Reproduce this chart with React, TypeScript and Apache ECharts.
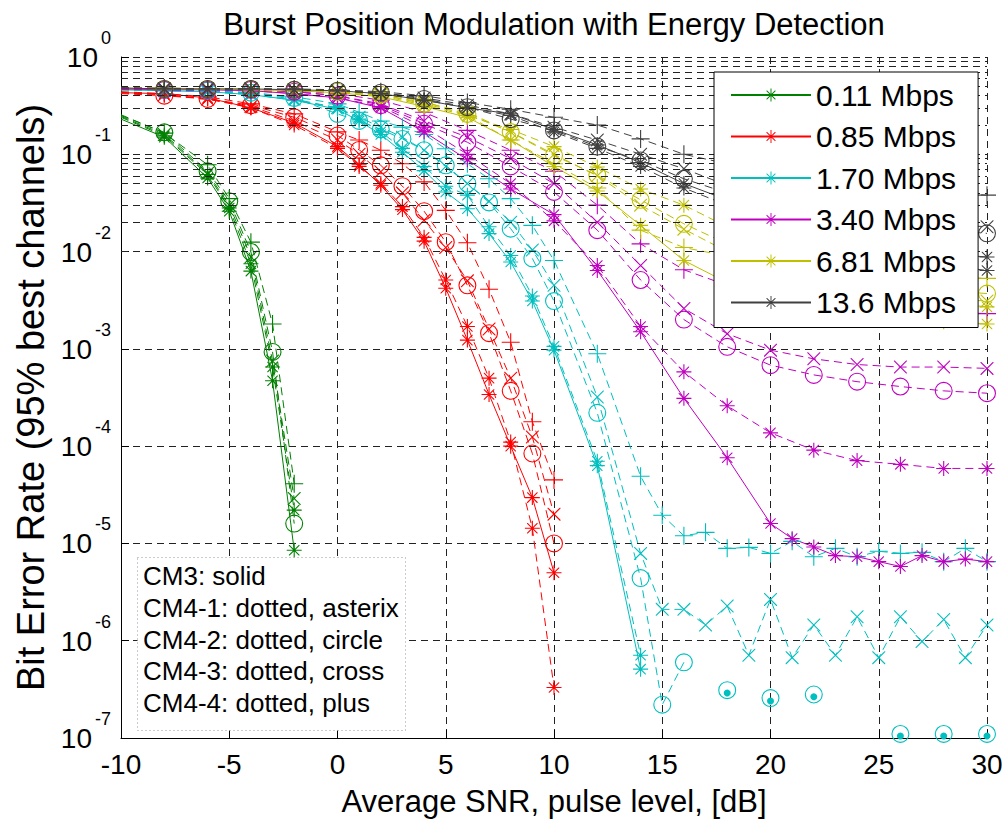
import React, { useEffect, useRef } from 'react';
import * as echarts from 'echarts';

const FONT = '"Liberation Sans", Arial, Helvetica, sans-serif';

const RATES = ['0.11 Mbps', '0.85 Mbps', '1.70 Mbps', '3.40 Mbps', '6.81 Mbps', '13.6 Mbps'];
const COLORS = ['#008000', '#ff0000', '#00bfbf', '#bf00bf', '#bfbf00', '#404040'];
const CHANNELS = ['CM3', 'CM4-1', 'CM4-2', 'CM4-3', 'CM4-4'];
const NOTES = ['CM3: solid', 'CM4-1: dotted, asterix', 'CM4-2: dotted, circle', 'CM4-3: dotted, cross', 'CM4-4: dotted, plus'];
const X_TICKS = { min: -10, max: 30, interval: 5 };
const Y_RANGE = { min: 1e-7, max: 1 };
const MINOR_MULT = [2, 3, 4, 5, 6, 7, 8, 9];
const DECADES = [-7, -6, -5, -4, -3, -2, -1];

// 0.11 Mbps
const X_G = [-10, -8, -6, -5, -4, -3, -2];
const G_CM3 = [0.23, 0.15, 0.057, 0.026, 0.0063, 4.7e-4, 8.5e-6];
const G_CM41 = [0.24, 0.155, 0.062, 0.028, 0.0075, 6.5e-4, 2.2e-5];
const G_CM42 = [0.25, 0.168, 0.067, 0.033, 0.0099, 9.3e-4, 1.6e-5];
const G_CM43 = [0.245, 0.16, 0.064, 0.03, 0.0088, 7.5e-4, 2.9e-5];
const G_CM44 = [0.255, 0.165, 0.078, 0.035, 0.0125, 1.8e-3, 4.1e-5];

// 0.85 Mbps
const X_R = [-10, -8, -6, -4, -2, 0, 1, 2, 3, 4, 5, 6, 7, 8, 9, 10];
const R_CM3 = [0.43, 0.42, 0.38, 0.3, 0.21, 0.12, 0.078, 0.048, 0.027, 0.0128, 0.0042, 1.23e-3, 3.4e-4, 1.0e-4, 2.96e-5, 5e-6];
const R_CM41 = [0.43, 0.41, 0.37, 0.3, 0.2, 0.115, 0.075, 0.05, 0.029, 0.014, 0.0051, 1.7e-3, 5e-4, 1.1e-4, 1.43e-5, 3.3e-7];
const R_CM42 = [0.42, 0.4, 0.37, 0.32, 0.24, 0.156, 0.111, 0.077, 0.047, 0.026, 0.0125, 0.0045, 1.45e-3, 3.7e-4, 8.4e-5, 1e-5];
const R_CM43 = [0.43, 0.41, 0.37, 0.31, 0.22, 0.14, 0.1, 0.066, 0.04, 0.021, 0.011, 0.005, 1.6e-3, 5e-4, 1.24e-4, 2e-5];
const R_CM44 = [0.44, 0.42, 0.39, 0.33, 0.26, 0.17, 0.14, 0.11, 0.08, 0.052, 0.0265, 0.0123, 0.0041, 1.17e-3, 1.78e-4, 4.5e-5];

// 1.70 Mbps
const X_C = [-10, -8, -6, -4, -2, 0, 1, 2, 3, 4, 5, 6, 7, 8, 9, 10, 12, 14, 15, 16, 17, 18, 19, 20, 21, 22, 23, 24, 25, 26, 27, 28, 29, 30];
const C_CM3 = [0.46, 0.45, 0.44, 0.41, 0.36, 0.29, 0.22, 0.16, 0.105, 0.068, 0.041, 0.0276, 0.0153, 0.0078, 0.0031, 9.7e-4, 6.3e-5, 5.1e-7,
  null, null, null, null, null, null, null, null, null, null, null, null, null, null, null, null];
const C_CM41 = [0.46, 0.45, 0.44, 0.41, 0.36, 0.3, 0.23, 0.17, 0.115, 0.075, 0.047, 0.038, 0.018, 0.0091, 0.0035, 1.06e-3, 7e-5, 7.1e-7,
  null, null, null, null, null, null, null, null, null, null, null, null, null, null, null, null];
const C_CM42 = [0.47, 0.46, 0.45, 0.43, 0.38, 0.26, 0.22, 0.18, 0.144, 0.11, 0.077, 0.05, 0.032, 0.0172, 0.0085, 0.0031, 2.2e-4, 4.4e-6, 2.2e-7, 6e-7,
  null, 3.1e-7, null, 2.57e-7, null, 2.8e-7, null, null, null, 1.1e-7, null, 1.1e-7, null, 1.1e-7];
const C_CM43 = [0.46, 0.45, 0.44, 0.42, 0.37, 0.3, 0.24, 0.19, 0.15, 0.11, 0.075, 0.05, 0.033, 0.02, 0.0104, 0.0045, 3.2e-4, 7.9e-6, 2.1e-6, 2.1e-6,
  1.45e-6, 2.27e-6, 7.1e-7, 2.66e-6, 6.7e-7, 1.45e-6, 7.1e-7, 1.76e-6, 6.7e-7, 1.76e-6, 9.8e-7, 1.65e-6, 6.7e-7, 1.45e-6];
const C_CM44 = [0.47, 0.46, 0.45, 0.43, 0.39, 0.33, 0.27, 0.22, 0.19, 0.16, 0.114, 0.08, 0.056, 0.035, 0.0186, 0.0081, 8.9e-4, 4.9e-5, 1.95e-5, 1.2e-5,
  1.3e-5, 8.9e-6, 9.1e-6, 7.9e-6, 1.05e-5, 7.3e-6, 8.9e-6, 7.3e-6, 8.3e-6, 7.9e-6, 8.1e-6, 6.5e-6, 8.9e-6, 6.5e-6];
const X_CDOT = [18, 20, 22, 26, 28, 30];
const C_DOT = [2.9e-7, 2.4e-7, 2.65e-7, 1.05e-7, 1.05e-7, 1.05e-7];

// 3.40 Mbps
const X_M = [-10, -8, -6, -4, -2, 0, 2, 4, 6, 8, 10, 12, 14, 16, 18, 20, 21, 22, 23, 24, 25, 26, 27, 28, 29, 30];
const M_CM3 = [0.47, 0.46, 0.46, 0.45, 0.42, 0.38, 0.3, 0.17, 0.088, 0.044, 0.024, 0.0064, 0.0015, 3.1e-4, 7.6e-5, 1.6e-5, 1.12e-5, 9.2e-6, 7.5e-6, 7.3e-6, 6.5e-6, 5.8e-6, 7.5e-6, 6.5e-6, 6.9e-6, 6.5e-6];
const M_CM41 = [0.47, 0.46, 0.46, 0.45, 0.42, 0.38, 0.31, 0.19, 0.1, 0.05, 0.0207, 0.0072, 0.0017, 5.8e-4, 2.6e-4, 1.37e-4, null, 9.1e-5, null, 7.1e-5, null, 6.5e-5, null, 5.9e-5, null, 5.9e-5];
const M_CM42 = [0.47, 0.46, 0.46, 0.46, 0.44, 0.4, 0.32, 0.206, 0.133, 0.075, 0.041, 0.0166, 0.0051, 0.002, 1.05e-3, 6.8e-4, null, 5.4e-4, null, 4.6e-4, null, 4.1e-4, null, 3.7e-4, null, 3.5e-4];
const M_CM43 = [0.47, 0.46, 0.46, 0.46, 0.44, 0.4, 0.33, 0.22, 0.15, 0.09, 0.05, 0.02, 0.0072, 0.0026, 1.43e-3, 9.7e-4, null, 7.9e-4, null, 6.9e-4, null, 6.5e-4, null, 6.5e-4, null, 6.3e-4];
const M_CM44 = [0.47, 0.47, 0.46, 0.46, 0.45, 0.42, 0.36, 0.27, 0.176, 0.11, 0.067, 0.03, 0.012, 0.0065, 0.0045, 0.0035, null, 0.003, null, 0.0027, null, 0.0025, null, 0.0024, null, 0.0023];

// 6.81 Mbps
const X_Y = [-10, -8, -6, -4, -2, 0, 2, 4, 6, 8, 10, 12, 14, 16, 18, 20, 22, 24, 26, 28, 30];
const Y_CM3 = [0.48, 0.47, 0.47, 0.46, 0.45, 0.43, 0.39, 0.31, 0.24, 0.14, 0.075, 0.042, 0.0186, 0.0081, 0.0048, 0.0033, 0.0026, 0.0022, 0.002, 0.0019, 0.0018];
const Y_CM41 = [0.48, 0.47, 0.47, 0.46, 0.45, 0.43, 0.4, 0.32, 0.25, 0.18, 0.12, 0.074, 0.044, 0.03, 0.018, 0.011, 0.007, 0.005, 0.0037, 0.003, 0.0027];
const Y_CM42 = [0.48, 0.47, 0.47, 0.47, 0.46, 0.44, 0.41, 0.33, 0.26, 0.169, 0.097, 0.061, 0.034, 0.0193, 0.012, 0.0085, 0.0065, 0.0052, 0.0045, 0.004, 0.0037];
const Y_CM43 = [0.48, 0.47, 0.47, 0.47, 0.46, 0.44, 0.41, 0.34, 0.27, 0.17, 0.1, 0.06, 0.03, 0.017, 0.01, 0.007, 0.0052, 0.0042, 0.0036, 0.0033, 0.0031];
const Y_CM44 = [0.48, 0.48, 0.47, 0.47, 0.46, 0.45, 0.42, 0.35, 0.25, 0.14, 0.08, 0.045, 0.0166, 0.011, 0.009, 0.0075, 0.0066, 0.006, 0.0057, 0.0055, 0.0053];

// 13.6 Mbps
const X_K = [-10, -8, -6, -4, -2, 0, 2, 4, 6, 8, 10, 12, 14, 16, 18, 20, 22, 24, 26, 28, 30];
const K_CM3 = [0.48, 0.47, 0.47, 0.47, 0.46, 0.45, 0.42, 0.36, 0.3, 0.26, 0.18, 0.125, 0.082, 0.05, 0.034, 0.024, 0.018, 0.014, 0.011, 0.0095, 0.0088];
const K_CM41 = [0.48, 0.47, 0.47, 0.47, 0.46, 0.45, 0.42, 0.36, 0.3, 0.25, 0.17, 0.115, 0.075, 0.045, 0.03, 0.021, 0.015, 0.011, 0.0085, 0.0072, 0.0064];
const K_CM42 = [0.48, 0.47, 0.47, 0.47, 0.46, 0.45, 0.43, 0.37, 0.305, 0.23, 0.176, 0.12, 0.0865, 0.056, 0.04, 0.03, 0.024, 0.02, 0.018, 0.0165, 0.0154];
const K_CM43 = [0.48, 0.47, 0.47, 0.47, 0.46, 0.45, 0.43, 0.38, 0.32, 0.26, 0.19, 0.14, 0.1, 0.071, 0.048, 0.035, 0.027, 0.023, 0.02, 0.019, 0.018];
const K_CM44 = [0.48, 0.48, 0.47, 0.47, 0.47, 0.46, 0.44, 0.4, 0.34, 0.29, 0.24, 0.2, 0.144, 0.1, 0.08, 0.063, 0.053, 0.046, 0.042, 0.04, 0.038];

const SETS = [
  { x: X_G, ys: [G_CM3, G_CM41, G_CM42, G_CM43, G_CM44] },
  { x: X_R, ys: [R_CM3, R_CM41, R_CM42, R_CM43, R_CM44] },
  { x: X_C, ys: [C_CM3, C_CM41, C_CM42, C_CM43, C_CM44] },
  { x: X_M, ys: [M_CM3, M_CM41, M_CM42, M_CM43, M_CM44] },
  { x: X_Y, ys: [Y_CM3, Y_CM41, Y_CM42, Y_CM43, Y_CM44] },
  { x: X_K, ys: [K_CM3, K_CM41, K_CM42, K_CM43, K_CM44] },
];

// ---- marker shapes (filled outlines, ~1px strokes) ----
const T = 1.1;
const f = (v: number) => v.toFixed(2);
function plusD(s: number) {
  const c = s / 2, h = T / 2;
  return `M${f(c - h)},0H${f(c + h)}V${f(s)}H${f(c - h)}ZM0,${f(c - h)}H${f(s)}V${f(c + h)}H0Z`;
}
function crossD(o: number, d: number) {
  const e = T / Math.SQRT2;
  const a = o, b = o + d;
  return `M${f(a)},${f(a)}L${f(a + e)},${f(a)}L${f(b)},${f(b - e)}L${f(b)},${f(b)}L${f(b - e)},${f(b)}L${f(a)},${f(a + e)}Z` +
    `M${f(b)},${f(a)}L${f(b)},${f(a + e)}L${f(a + e)},${f(b)}L${f(a)},${f(b)}L${f(a)},${f(b - e)}L${f(b - e)},${f(a)}Z`;
}
function ringD(s: number) {
  const c = s / 2, r = s / 2, ri = r - T;
  return `M${f(c)},0A${f(r)},${f(r)} 0 1,1 ${f(c)},${f(s)}A${f(r)},${f(r)} 0 1,1 ${f(c)},0Z` +
    `M${f(c)},${f(T)}A${f(ri)},${f(ri)} 0 1,0 ${f(c)},${f(s - T)}A${f(ri)},${f(ri)} 0 1,0 ${f(c)},${f(T)}Z`;
}
const AST = 15, CIR = 18, CRS = 13, PLS = 18;
const SYMBOLS = [
  { sym: 'path://' + plusD(AST) + crossD(AST / 2 - AST * 0.3536, AST * 0.7071), size: AST },
  { sym: 'path://' + plusD(AST) + crossD(AST / 2 - AST * 0.3536, AST * 0.7071), size: AST },
  { sym: 'path://' + ringD(CIR), size: CIR },
  { sym: 'path://' + crossD(0, CRS), size: CRS },
  { sym: 'path://' + plusD(PLS), size: PLS },
];

function buildSeries() {
  const out: any[] = [];
  // minor grid lines (log decades 2..9)
  const minor: any[] = [];
  DECADES.forEach((d) => MINOR_MULT.forEach((m) => minor.push({ yAxis: m * Math.pow(10, d) })));
  out.push({
    type: 'line', name: 'grid', z: 1, silent: true, symbol: 'none',
    data: [[-10, 1]], lineStyle: { opacity: 0 },
    markLine: {
      silent: true, symbol: ['none', 'none'], animation: false,
      label: { show: false },
      lineStyle: { color: '#222', type: [7, 5], width: 1 },
      emphasis: { disabled: true },
      data: minor,
    },
  });
  SETS.forEach((set, i) => {
    set.ys.forEach((ys, j) => {
      const keepGaps = i === 2 && j === 2;
      const data: any[] = [];
      set.x.forEach((xv, k) => {
        const v = ys[k];
        if (v == null) { if (keepGaps) data.push([xv, null]); return; }
        if (xv === -10) data.push({ value: [xv, v], symbol: 'none' });
        else data.push([xv, v]);
      });
      out.push({
        type: 'line',
        name: j === 0 ? RATES[i] : `${RATES[i]} ${CHANNELS[j]}`,
        data,
        color: COLORS[i],
        symbol: SYMBOLS[j].sym,
        symbolSize: SYMBOLS[j].size,
        showAllSymbol: true,
        connectNulls: !keepGaps,
        clip: false,
        itemStyle: { color: COLORS[i] },
        lineStyle: { color: COLORS[i], width: 1, type: j === 0 ? 'solid' : [8, 5] },
        emphasis: { disabled: true },
        z: 2,
      });
    });
  });
  out.push({
    type: 'line', name: 'dots', data: X_CDOT.map((x, k) => [x, C_DOT[k]]),
    symbol: 'circle', symbolSize: 7, lineStyle: { opacity: 0, width: 0 },
    itemStyle: { color: COLORS[2] }, emphasis: { disabled: true }, z: 3,
  });
  return out;
}

export default function App() {
  const ref = useRef<HTMLDivElement>(null);
  useEffect(() => {
    document.body.style.margin = '0';
    const chart = echarts.init(ref.current!, null, { renderer: 'svg' });
    const option: any = {
      animation: false,
      backgroundColor: '#fff',
      textStyle: { fontFamily: FONT },
      title: {
        text: 'Burst Position Modulation with Energy Detection',
        left: 549, top: 4, textAlign: 'center',
        textStyle: { fontFamily: FONT, fontSize: 31, fontWeight: 'normal', color: '#000' },
      },
      grid: { left: 121, top: 57, width: 866, height: 681, outerBoundsMode: 'none', containLabel: false },
      legend: {
        data: RATES, orient: 'vertical', left: 714, top: 72,
        padding: [8, 22, 10, 16], itemGap: 11.5, itemWidth: 80, itemHeight: 16,
        backgroundColor: '#fff', borderColor: '#000', borderWidth: 1,
        textStyle: { fontSize: 30, lineHeight: 30, fontFamily: FONT, color: '#000' },
        selectedMode: false, z: 10,
      },
      xAxis: {
        type: 'value', min: X_TICKS.min, max: X_TICKS.max, interval: X_TICKS.interval,
        name: 'Average SNR, pulse level, [dB]', nameLocation: 'middle', nameGap: 48,
        nameTextStyle: { fontFamily: FONT, fontSize: 31, color: '#000' },
        axisLine: { show: true, onZero: false, lineStyle: { color: '#000', width: 1 } },
        axisTick: { show: true, inside: true, length: 8, lineStyle: { color: '#000' } },
        axisLabel: { fontFamily: FONT, fontSize: 28, color: '#000', margin: 12 },
        splitLine: { show: true, lineStyle: { color: '#222', type: [7, 5], width: 1 } },
      },
      yAxis: {
        type: 'log', logBase: 10, min: Y_RANGE.min, max: Y_RANGE.max, splitNumber: 7,
        name: 'Bit Error Rate (95% best channels)', nameLocation: 'middle', nameGap: 66,
        nameTextStyle: { fontFamily: FONT, fontSize: 38, color: '#000' },
        axisLine: { show: true, onZero: false, lineStyle: { color: '#000', width: 1 } },
        axisTick: { show: true, inside: true, length: 8, lineStyle: { color: '#000' } },
        axisLabel: {
          margin: 10,
          padding: [3, 0, 0, 0],
          formatter: (v: number) => `{b|10}{s|${Math.round(Math.log10(v))}}`,
          rich: {
            b: { fontFamily: FONT, fontSize: 28, lineHeight: 26, color: '#000', verticalAlign: 'bottom' },
            s: { fontFamily: FONT, fontSize: 18, lineHeight: 17, color: '#000', verticalAlign: 'bottom', padding: [0, 0, 24.5, 3] },
          },
        },
        splitLine: { show: true, lineStyle: { color: '#222', type: [7, 5], width: 1 } },
      },
      graphic: [
        {
          type: 'rect', left: 137, top: 557, z: 5,
          shape: { width: 268, height: 173 },
          style: { fill: '#fff', stroke: '#999', lineWidth: 1, lineDash: [1, 3] },
        },
        ...NOTES.map((t, k) => ({
          type: 'text', left: 143, top: 563 + k * 31.8, z: 6,
          style: { text: t, font: `26px ${FONT}`, fill: '#000' },
        })),
      ],
      series: buildSeries(),
    };
    chart.setOption(option);
    return () => chart.dispose();
  }, []);
  return <div ref={ref} style={{ position: 'absolute', left: 0, top: 0, width: 1008, height: 825 }} />;
}
